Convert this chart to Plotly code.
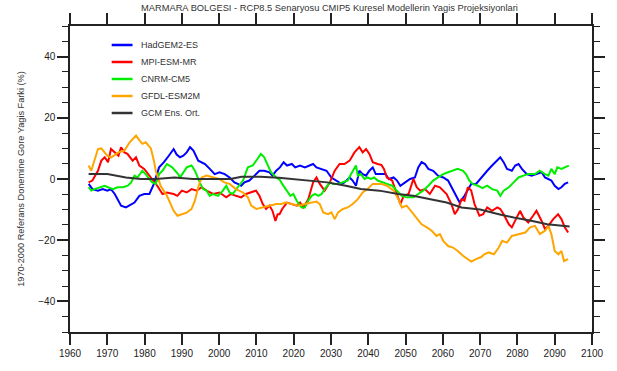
import plotly.graph_objects as go

# --- Model series: year, precipitation difference (%) relative to 1970-2000 ---
had_years = [1965, 1966, 1967.5, 1968.8, 1970, 1971, 1972, 1973, 1973.7, 1975, 1976.4, 1977.3, 1978.6,
             1979.9, 1981.3, 1982.5, 1983.9, 1985.2, 1986.5, 1987.8, 1988.6, 1989.5, 1990.4, 1991.3,
             1992.2, 1993.1, 1994.4, 1995.3, 1996.2, 1997.5, 1998.8, 2000.1, 2001.5, 2002.8, 2004.1,
             2005, 2005.9, 2006.8, 2008.1, 2009.5, 2010.8, 2012.1, 2013.5, 2014.3, 2015.3, 2016.3,
             2017.3, 2018.2, 2019.5, 2020.4, 2021.7, 2023, 2024.4, 2025.2, 2026.1, 2027.5, 2028.8,
             2030.1, 2031.5, 2032.8, 2033.6, 2035, 2035.8, 2036.7, 2037.6, 2038.5, 2039.4, 2040.3,
             2041.2, 2042, 2043.4, 2044.6, 2045.5, 2046.8, 2047.7, 2048.6, 2049.9, 2051.2, 2052.5,
             2053.4, 2054.3, 2055.2, 2056.1, 2057.4, 2058.7, 2060.1, 2061.4, 2062.3, 2063.6, 2064.5,
             2065.8, 2066.7, 2067.6, 2068.9, 2070.3, 2071.1, 2071.9, 2073.2, 2074.6, 2075.4, 2076.3,
             2077.2, 2078.5, 2079.4, 2080.3, 2081.2, 2082.5, 2083.8, 2085.1, 2086.5, 2087.4, 2088.3,
             2089.1, 2090, 2091, 2091.8, 2092.7, 2093.6]
had_vals = [-1.6, -3.3, -3.8, -3.3, -3.8, -3.3, -4.9, -7.1, -8.7, -9.3, -8.2, -7.7, -5.5,
            -4.9, -4.9, -1.6, 3.8, 5.5, 7.6, 9.8, 8.0, 7.1, 7.6, 8.7,
            10.4, 9.3, 6.0, 5.5, 4.9, 3.3, 1.6, 2.2, 1.6, 0.5, -1.1,
            -1.6, -2.2, -1.1, -0.5, 1.1, 2.7, 2.7, 2.2, 1.1, 2.7, 3.8,
            5.5, 4.4, 4.9, 3.8, 4.4, 3.8, 4.4, 4.9, 3.8, 3.3, 2.7,
            0.5, -0.5, -1.6, -1.1, 0.5, -0.5, -2.2, 2.7, 1.6, 1.1, 2.7,
            3.8, 1.6, 1.6, 1.6, 0.0, 0.5, -0.5, -2.2, -1.1, 0.0, 0.5,
            3.8, 5.5, 4.9, 3.3, 2.7, 1.1, 0.5, -0.5, -2.7, -5.5, -7.7,
            -5.5, -3.3, -1.6, -1.6, 0.5, 1.6, 2.7, 4.4, 6.0, 7.1, 5.5,
            3.3, 2.7, 4.4, 4.9, 3.3, 1.6, 1.1, 1.6, 2.2, 0.5, 0.0,
            -0.5, -2.2, -3.3, -2.7, -1.6, -1.1]

mpi_years = [1965, 1966, 1967.5, 1968.4, 1969.3, 1970.2, 1971, 1972, 1973, 1973.7, 1974.6, 1975.4,
             1976.8, 1977.7, 1978.6, 1979.9, 1981.7, 1983.4, 1984.8, 1986, 1987.8, 1988.8, 1990,
             1991.3, 1992.6, 1994, 1995.3, 1996.6, 1998.4, 2000.1, 2001.9, 2003.2, 2004.5, 2005.9,
             2007.2, 2008.6, 2009.9, 2010.8, 2011.7, 2012.6, 2013.5, 2014.3, 2015.1, 2015.7, 2016.2,
             2016.9, 2018.2, 2019.5, 2020.8, 2021.7, 2022.6, 2023.9, 2025.2, 2026.1, 2027, 2028.3,
             2029.7, 2031, 2032.3, 2033.6, 2035, 2036.3, 2037.6, 2038.5, 2039.4, 2040.3, 2041.2,
             2042.5, 2043.5, 2044.2, 2045, 2046.4, 2047.7, 2048.6, 2049.5, 2050.8, 2052.1, 2053,
             2053.9, 2055.2, 2056.5, 2057.9, 2059.2, 2061, 2062.3, 2063.2, 2064.1, 2065, 2065.8,
             2066.7, 2067.6, 2068.5, 2069.8, 2070.8, 2071.9, 2073.2, 2074.6, 2075.4, 2076.3, 2077.7,
             2078.5, 2079.4, 2080.7, 2081.6, 2082.9, 2084.2, 2085.1, 2086.5, 2087.4, 2088.3, 2089.6,
             2090.9, 2091.8, 2092.7, 2093.6]
mpi_vals = [-1.1, -0.5, 2.7, 6.0, 7.1, 5.5, 9.8, 8.7, 7.6, 10.4, 8.7, 8.2,
            6.0, 7.1, 4.4, 3.3, 0.5, -2.2, -4.9, -4.4, -4.9, -5.5, -3.8,
            -4.4, -3.3, -3.8, -2.7, -3.8, -4.9, -4.4, -6.0, -4.9, -5.5, -6.0,
            -4.9, -4.4, -3.8, -5.5, -8.2, -9.8, -8.7, -10.4, -13.7, -11.5, -11.5,
            -9.8, -7.7, -8.2, -8.7, -7.7, -9.3, -6.6, -1.1, 0.5, -1.6, -3.8,
            -1.1, 2.7, 4.9, 4.9, 6.0, 8.7, 10.4, 8.7, 9.8, 8.2, 5.5,
            4.9, 4.6, 3.3, 0.5, -0.5, -4.9, -8.2, -5.5, -4.9, 0.0, -2.7,
            -3.8, -3.3, -4.9, -2.2, -2.7, -4.9, -8.2, -11.5, -9.8, -6.6, -7.1,
            -2.7, -3.8, -8.2, -12.0, -11.5, -9.3, -10.4, -9.3, -9.8, -11.5, -14.8,
            -15.8, -13.7, -10.4, -12.6, -14.2, -12.0, -10.4, -13.7, -16.4, -15.3, -13.1,
            -11.5, -13.1, -15.8, -17.5]

cnrm_years = [1965, 1965.7, 1966.6, 1968, 1969.3, 1970.2, 1971.5, 1972.8, 1974.2, 1975.5, 1976.4,
              1977.3, 1978.1, 1979.4, 1980.3, 1981.3, 1982.1, 1983, 1983.9, 1984.8, 1986, 1987.4,
              1988.2, 1989, 1989.5, 1990.4, 1991.3, 1992.6, 1993.5, 1994.8, 1995.7, 1996.6, 1997.5,
              1998.4, 1999.7, 2001, 2001.9, 2002.8, 2003.6, 2005, 2006.4, 2007.7, 2009, 2010.3,
              2011.2, 2012.1, 2013, 2013.9, 2015.3, 2016.3, 2016.9, 2018.2, 2019.1, 2019.9, 2020.8,
              2022.1, 2023, 2023.9, 2024.8, 2025.7, 2026.6, 2027.5, 2028.3, 2029.7, 2030.6, 2031.9,
              2033.2, 2034.5, 2035.4, 2036.7, 2037.2, 2038, 2039, 2039.8, 2040.7, 2041.6, 2042.5,
              2043.6, 2045, 2046.4, 2047.7, 2049, 2050.3, 2052.1, 2053.4, 2054.7, 2056.1, 2057.4,
              2058.7, 2060.1, 2061.4, 2062.7, 2064, 2065.4, 2066.2, 2067.1, 2068, 2069.4, 2070.6,
              2071.9, 2073.2, 2074.6, 2075.4, 2076.3, 2077.7, 2079, 2080.3, 2081.6, 2082.9, 2084.7,
              2086, 2087.4, 2088.3, 2089.1, 2090, 2090.7, 2091.8, 2092.7, 2093.8]
cnrm_vals = [-2.7, -3.8, -3.3, -2.7, -2.2, -2.7, -3.3, -2.7, -2.7, -2.2, -1.1,
             1.1, 0.5, 2.7, 1.6, 0.0, -1.1, -1.6, 1.6, 2.7, 4.9, 3.8,
             2.7, 1.6, 0.5, 2.2, 3.8, 4.4, 2.7, -1.1, -3.3, -3.8, -5.5,
             -4.9, -5.5, -3.8, -2.2, -4.4, -4.9, -2.7, -0.5, 3.8, 4.4, 6.6,
             8.2, 7.1, 4.4, 2.2, 0.5, -0.3, -1.6, -3.8, -5.5, -4.9, -7.1,
             -9.3, -9.3, -7.1, -5.5, -4.9, -5.5, -4.9, -3.3, -1.1, -1.6, -1.6,
             -1.1, -0.5, 1.6, 4.4, 1.1, 1.6, 0.0, 0.5, 0.0, 0.5, -0.5,
             -1.1, -1.6, -2.2, -3.8, -5.5, -6.0, -6.0, -4.9, -3.8, -2.2, -0.5,
             0.5, 1.6, 2.2, 2.7, 3.3, 2.7, 1.6, -0.5, -1.6, -2.2, -3.0,
             -2.2, -3.3, -3.8, -5.5, -3.8, -2.7, -1.1, 0.5, 1.1, 1.6, 1.6,
             2.7, 1.6, 1.1, 3.3, 1.6, 3.8, 3.3, 3.8, 4.4]

gfdl_years = [1965, 1965.7, 1967.5, 1968.4, 1970, 1971, 1973, 1974.6, 1976, 1977.7, 1978.6, 1979.4,
              1980.3, 1981.7, 1982.5, 1983, 1984.3, 1986, 1987.8, 1988.8, 1990, 1991.3, 1992.6,
              1993.5, 1994.4, 1995.3, 1996.6, 1998.4, 2000, 2001.4, 2002.8, 2004.5, 2006.4, 2007.7,
              2008.6, 2010, 2011.7, 2013.5, 2015.3, 2016.6, 2017.7, 2019.5, 2021.3, 2023, 2024.8,
              2026.1, 2027, 2027.9, 2029.2, 2030.1, 2031, 2031.9, 2033.2, 2034.5, 2035.8, 2037.2,
              2038.5, 2039.8, 2041.2, 2042.5, 2043.5, 2045, 2046.8, 2048.1, 2049, 2050.3, 2051.7,
              2053, 2054.3, 2055.7, 2057, 2058.3, 2059.2, 2060.1, 2061.4, 2062.7, 2064, 2065.4,
              2066.7, 2067.6, 2068.9, 2070.3, 2071.1, 2072.3, 2073.7, 2075, 2075.9, 2077.2, 2078.5,
              2080.3, 2082.1, 2083.4, 2084.7, 2086, 2087.4, 2088.3, 2089.1, 2090, 2091, 2091.8,
              2092.5, 2093.6]
gfdl_vals = [4.4, 2.7, 9.8, 10.0, 7.6, 7.0, 8.7, 9.3, 12.0, 14.2, 12.7, 11.5,
             12.0, 10.0, 6.0, 2.7, -2.2, -5.5, -10.4, -12.0, -11.5, -11.0, -9.8,
             -7.1, -2.7, 0.5, 1.1, 0.5, 0.0, -1.1, -1.6, -3.3, -4.4, -6.0,
             -8.7, -9.8, -9.3, -8.7, -8.2, -8.2, -7.7, -8.2, -8.7, -8.2, -7.7,
             -7.4, -8.2, -10.9, -11.5, -10.9, -13.1, -10.9, -9.8, -9.3, -8.2, -6.6,
             -4.4, -3.3, -1.6, -1.6, -1.6, -2.2, -3.8, -6.6, -9.3, -8.7, -10.9,
             -13.1, -14.8, -15.8, -16.9, -18.6, -18.0, -20.2, -21.9, -22.4, -23.5, -25.1,
             -26.2, -27.0, -26.2, -25.5, -24.6, -24.0, -24.6, -22.4, -20.2, -20.8, -18.6,
             -18.0, -17.5, -15.8, -15.3, -18.0, -16.9, -15.3, -18.0, -23.5, -24.6, -23.5,
             -26.8, -26.2]

ens_years = [1965, 1970, 1975, 1979, 1983, 1988, 1993, 1998, 2003, 2006, 2011, 2016, 2020, 2025,
             2029, 2034, 2038, 2043, 2048, 2052, 2057, 2061, 2065, 2070, 2075, 2079, 2084, 2088, 2094]
ens_vals = [1.6, 1.6, 0.5, 0.0, 0.0, 0.5, 0.0, 0.0, 0.0, 0.7, 0.7, 0.4, 0.0, -0.5,
            -1.1, -2.2, -3.3, -3.8, -4.9, -5.5, -6.6, -7.7, -9.3, -10.0, -11.5, -12.6, -13.7, -14.8, -15.5]

series = [
    ("HadGEM2-ES", had_years, had_vals, "#0000ff", 2),
    ("MPI-ESM-MR", mpi_years, mpi_vals, "#ff0000", 2),
    ("CNRM-CM5", cnrm_years, cnrm_vals, "#00ee00", 2),
    ("GFDL-ESM2M", gfdl_years, gfdl_vals, "#ffa500", 2),
    ("GCM Ens. Ort.", ens_years, ens_vals, "#333333", 2),
]

FONT = "Liberation Sans, Arial, Helvetica, sans-serif"
W, H = 617, 371
M_L, M_R, M_T, M_B = 70, 21, 26, 39
PW, PH = W - M_L - M_R, H - M_T - M_B

fig = go.Figure()
for name, xs, ys, color, w in series:
    fig.add_trace(go.Scatter(x=xs, y=ys, mode="lines", name=name, showlegend=False,
                             line=dict(color=color, width=w)))

# Compact legend block in the upper-left corner of the plotting area
def px_x(p):
    return (p - M_L) / PW

def px_y(p):
    return 1 - (p - M_T) / PH

shapes, annotations = [], []
for i, (name, _, _, color, _) in enumerate(series):
    row = 45 + 17 * i
    shapes.append(dict(type="line", xref="paper", yref="paper",
                       x0=px_x(112), x1=px_x(133), y0=px_y(row), y1=px_y(row),
                       line=dict(color=color, width=2.5)))
    annotations.append(dict(xref="paper", yref="paper", x=px_x(140), y=px_y(row),
                            xanchor="left", yanchor="middle", showarrow=False, text=name,
                            font=dict(family=FONT, size=9, color="#333")))

axis_common = dict(
    showline=True, linecolor="#222", linewidth=1.5, mirror="allticks",
    ticks="outside", ticklen=11, tickwidth=1.5, tickcolor="#222",
    showgrid=False, zeroline=False,
    tickfont=dict(family=FONT, size=10, color="#222"),
)

fig.update_xaxes(range=[1960, 2100], dtick=10, tick0=1960, **axis_common)
fig.update_yaxes(range=[-50, 50], dtick=20, tick0=0,
                 minor=dict(dtick=5, ticklen=6, tickwidth=1.2, tickcolor="#222", ticks="outside"),
                 title=dict(text="1970-2000 Referans Donemine Gore Yagis Farki (%)",
                            font=dict(family=FONT, size=9.2, color="#333"), standoff=12),
                 **axis_common)

fig.update_layout(
    width=W, height=H,
    margin=dict(l=M_L, r=M_R, t=M_T, b=M_B),
    paper_bgcolor="white", plot_bgcolor="white",
    title=dict(text="MARMARA BOLGESI - RCP8.5 Senaryosu CMIP5 Kuresel Modellerin Yagis Projeksiyonlari",
               x=0.534, xanchor="center", y=0.978, yanchor="middle",
               font=dict(family=FONT, size=9.3, color="#333")),
    shapes=shapes,
    annotations=annotations,
)

fig.write_html("out.html")
